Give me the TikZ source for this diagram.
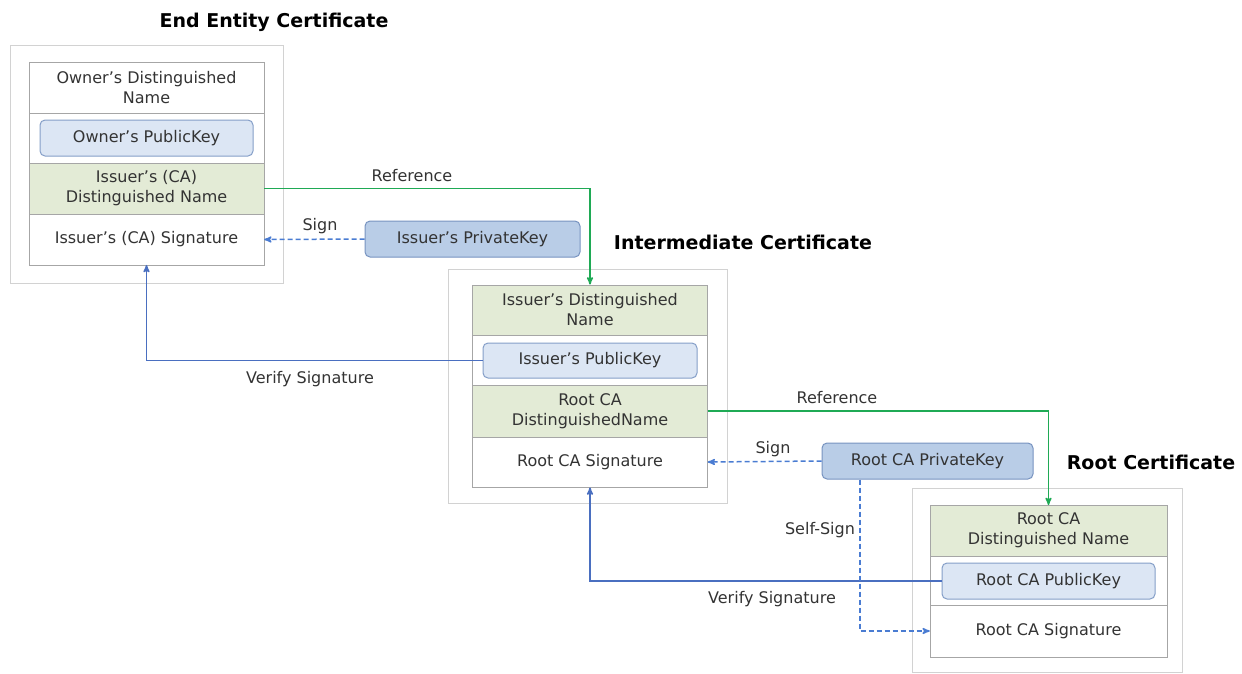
\documentclass[tikz,border=0pt]{standalone}
\usepackage{fontspec}
\setmainfont{DejaVu Sans}
\usepackage{tikz}
\usetikzlibrary{arrows}
\definecolor{dngreen}{HTML}{E3EBD6}
\definecolor{pubfill}{HTML}{DCE6F4}
\definecolor{pubborder}{HTML}{859FC8}
\definecolor{privfill}{HTML}{B9CDE7}
\definecolor{privborder}{HTML}{7793C0}
\definecolor{refgreen}{HTML}{1FAA55}
\definecolor{verblue}{HTML}{4A6FC0}
\definecolor{signblue}{HTML}{4A7CD2}
\definecolor{fieldgray}{HTML}{A6A6A6}
\definecolor{boxgray}{HTML}{D2D2D2}
\definecolor{textgray}{HTML}{333333}
\tikzset{
	field/.style={rectangle,draw=fieldgray,fill=white,text=textgray,align=center,
		minimum width=235pt,minimum height=50.5pt,inner sep=0pt,font=\fontsize{16}{20}\selectfont},
	dn field/.style={field,fill=dngreen},
	pub key/.style={rectangle,rounded corners=5pt,draw=pubborder,line width=1pt,fill=pubfill,text=textgray,
		minimum width=213pt,minimum height=36pt,inner sep=0pt,font=\fontsize{16}{20}\selectfont},
	priv key/.style={pub key,draw=privborder,fill=privfill},
	cert box/.style={rectangle,draw=boxgray,fill=white,inner sep=0pt},
	title/.style={text=black,font=\bfseries\fontsize{19}{23}\selectfont},
	line label/.style={text=textgray,font=\fontsize{16}{20}\selectfont},
	ref line/.style={->,draw=refgreen,line width=1.5pt},
	verify line/.style={->,draw=verblue,line width=1.5pt},
	sign line/.style={->,draw=signblue,line width=1.5pt,dash pattern=on 5pt off 3pt}
}

\begin{document}
\begin{tikzpicture}[x=1pt,y=-1pt,>=stealth']
	\useasboundingbox (0,0) rectangle (1242,673);
	\node [title] (eetitle) at (274,22) {End Entity Certificate};
	\node [cert box,minimum width=273pt,minimum height=238pt] (eecert) at (146.5,164) {};
	\node [field] (eeowner) at (146.5,87.5) {Owner’s Distinguished\\Name};
	\node [field] (eekeyrow) at (146.5,138) {};
	\node [dn field] (eeissuer) at (146.5,188.5) {Issuer’s (CA)\\Distinguished Name};
	\node [field] (eesig) at (146.5,239.5) {Issuer’s (CA) Signature};
	\node [pub key] (eepub) at (146.5,138) {Owner’s PublicKey};
	\node [priv key,minimum width=215pt] (ipriv) at (472.5,239) {Issuer’s PrivateKey};

	\node [title] (inttitle) at (743,242) {Intermediate Certificate};
	\node [cert box,minimum width=279pt,minimum height=234pt] (intcert) at (587.5,386) {};
	\node [dn field] (intissuer) at (590,310) {Issuer’s Distinguished\\Name};
	\node [field] (intkeyrow) at (590,360) {};
	\node [dn field,minimum height=52pt] (introot) at (590,411) {Root CA\\DistinguishedName};
	\node [field] (intsig) at (590,462) {Root CA Signature};
	\node [pub key,minimum width=214pt,minimum height=35pt] (intpub) at (590,360.5) {Issuer’s PublicKey};
	\node [priv key,minimum width=211pt] (rpriv) at (927.5,461) {Root CA PrivateKey};

	\node [title] (roottitle) at (1151,462) {Root Certificate};
	\node [cert box,minimum width=270pt,minimum height=184pt] (rootcert) at (1047,580) {};
	\node [dn field,minimum width=237pt] (rootdn) at (1048.5,530.5) {Root CA\\Distinguished Name};
	\node [field,minimum width=237pt,minimum height=49pt] (rootkeyrow) at (1048.5,580.5) {};
	\node [field,minimum width=237pt,minimum height=52pt] (rootsig) at (1048.5,631) {Root CA Signature};
	\node [pub key] (rootpub) at (1048.5,581) {Root CA PublicKey};

	\draw [ref line] (eeissuer.east) -| (intissuer.north);
	\draw [sign line] (ipriv.west) -- (eesig.east);
	\draw [verify line] (intpub.west) -| (eesig.south);
	\draw [ref line] (introot.east) -| (rootdn.north);
	\draw [sign line] (rpriv.west) -- (intsig.east);
	\draw [verify line] (rootpub.west) -| (intsig.south);
	\draw [sign line] ([xshift=-67.5pt]rpriv.south) |- (rootsig.west);

	\node [line label] (ref1) at (412,176) {Reference};
	\node [line label] (sign1) at (320,226) {Sign};
	\node [line label] (ver1) at (310,379) {Verify Signature};
	\node [line label] (ref2) at (837,398) {Reference};
	\node [line label] (sign2) at (773,449) {Sign};
	\node [line label] (selfsign) at (820,530) {Self-Sign};
	\node [line label] (ver2) at (772,599) {Verify Signature};
\end{tikzpicture}
\end{document}
